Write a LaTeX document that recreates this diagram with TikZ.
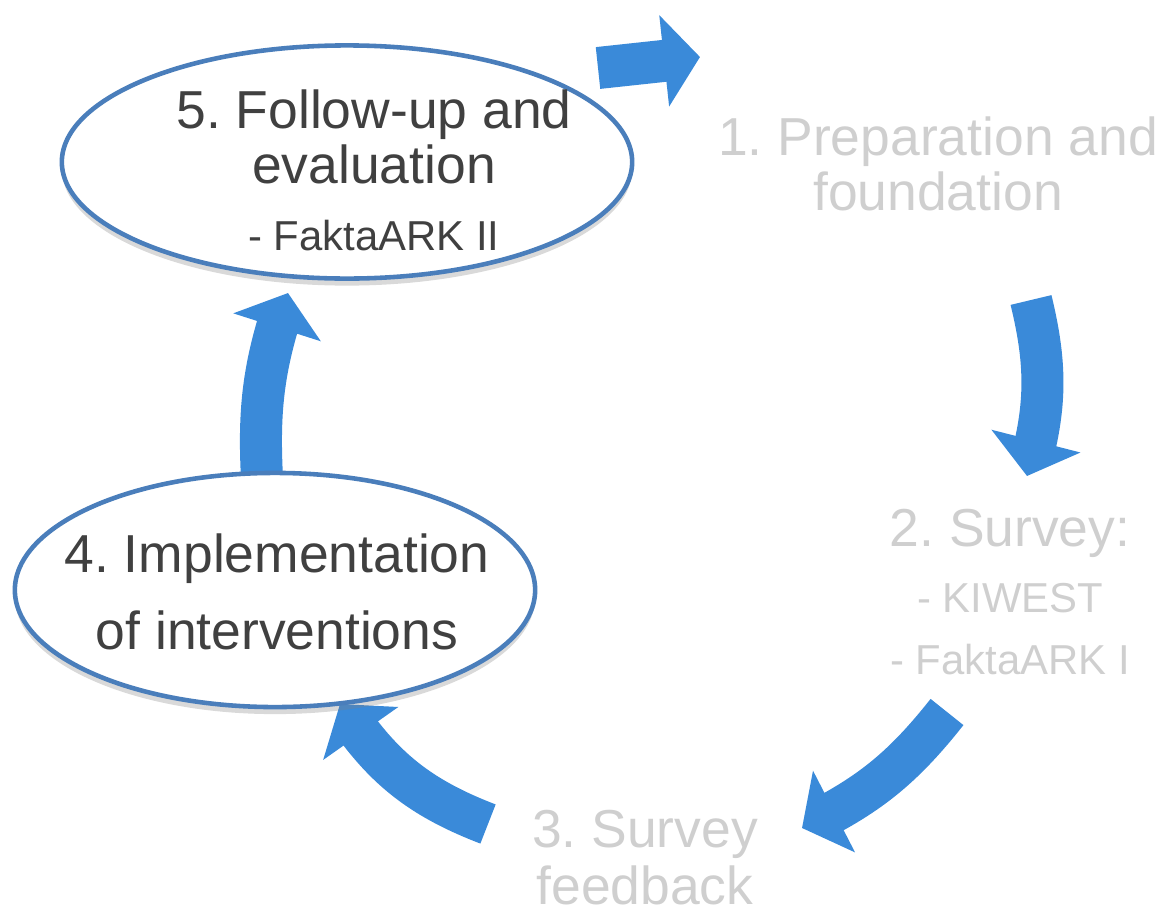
\documentclass[tikz,border=0pt]{standalone}
\usepackage{xcolor}
\usepackage{fontspec}
\setmainfont{Liberation Sans}
\usepackage{tikz}
\usetikzlibrary{shapes,arrows.meta,bending,shadows}
\usetikzlibrary{positioning}
\definecolor{cycblue}{HTML}{3A8AD9}
\definecolor{ringblue}{HTML}{4A7EBB}
\definecolor{darktext}{HTML}{404040}
\definecolor{faded}{HTML}{CFCFCF}
\tikzstyle{stepring} = [ellipse, draw=ringblue, line width=1.3pt, fill=white, inner sep=0pt, drop shadow={opacity=0.3, shadow xshift=0pt, shadow yshift=-2pt}]
\tikzstyle{steptext} = [align=center, inner sep=0pt, font=\frenchspacing\fontsize{15.2}{15.65}\selectfont]
\tikzstyle{cyclearrow} = [draw=cycblue, line width=0.42cm, -{Triangle[length=0.36cm, width=0.9cm]}]
\newcommand{\subfont}{\fontsize{11.9}{15.65}\selectfont}

\begin{document}
\begin{tikzpicture}[x=0.01cm, y=0.01cm]

\useasboundingbox (0,0) rectangle (1161,-912);

\coordinate (a51s) at (598,-68);
\coordinate (a51e) at (700,-57);
\coordinate (a12s) at (1031,-300);
\coordinate (a12e) at (1027,-476);
\coordinate (a23s) at (947,-712);
\coordinate (a23e) at (802,-828);
\coordinate (a34s) at (488,-824);
\coordinate (a34e) at (340,-704);
\coordinate (a45s) at (262,-478);
\coordinate (a45e) at (288,-293);

\path [cyclearrow] (a51s) to (a51e);
\path [cyclearrow] (a12s) to [bend left=15] (a12e);
\path [cyclearrow] (a23s) to [bend left=13] (a23e);
\path [cyclearrow] (a34s) to [bend left=18] (a34e);
\path [cyclearrow] (a45s) to [bend left=11] (a45e);

\node [stepring, minimum width=5.7cm, minimum height=2.33cm] at (347,-162) (s5) {};
\node [stepring, minimum width=5.2cm, minimum height=2.34cm] at (275,-590) (s4) {};

%% stage texts

\node [steptext, text=darktext] at (374,-170) (t5) {5. Follow-up and\\evaluation\\[3.4pt]{\subfont - FaktaARK II}};
\node [steptext, text=darktext] at (277,-592) (t4) {4. Implementation\\[6.3pt]of interventions};
\node [steptext, text=faded] at (938,-164) (t1) {1. Preparation and\\foundation};
\node [steptext, text=faded] at (1010,-592) (t2) {2. Survey:\\[3.1pt]{\subfont - KIWEST}\\[2pt]{\subfont - FaktaARK I}};
\node [steptext, text=faded] at (645,-858) (t3) {3. Survey\\[0.6pt]feedback};

\end{tikzpicture}
\end{document}
